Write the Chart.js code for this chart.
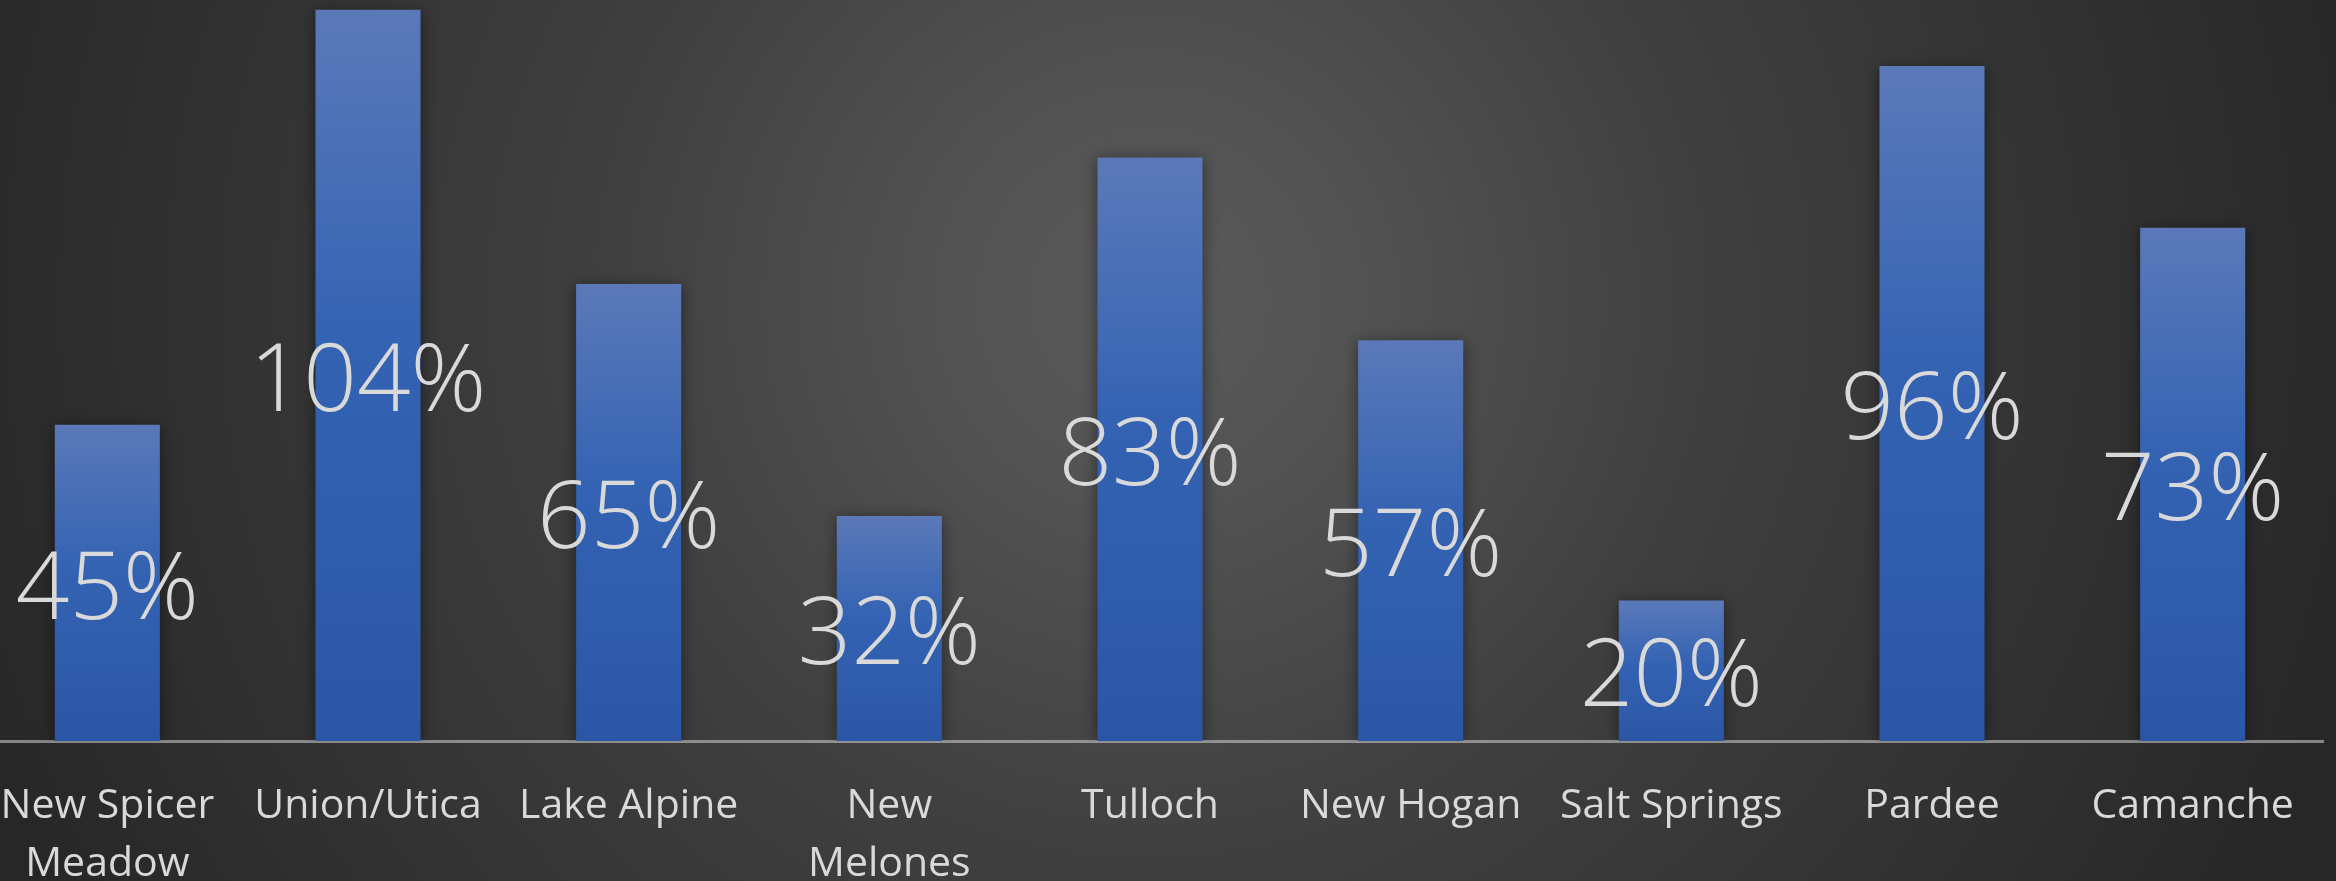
<!DOCTYPE html>
<html>
<head>
<meta charset="utf-8">
<script src="https://cdn.jsdelivr.net/npm/chart.js@4.4.1/dist/chart.umd.min.js"></script>
<style>
  html, body {
    margin: 0;
    padding: 0;
    width: 2336px;
    height: 881px;
    overflow: hidden;
    background: radial-gradient(circle 1250px at 1150px 300px, #5a5a5a 0%, #535353 16%, #3f3f3f 45%, #272727 100%);
  }
  #wrap {
    position: absolute;
    left: -23px;
    top: 0;
    width: 2359px;
    height: 881px;
  }
</style>
</head>
<body>
<div id="wrap"><canvas id="reservoirs"></canvas></div>
<script>
// reservoir storage, percent of average
const reservoirs = [
  ['New Spicer', 'Meadow'],
  'Union/Utica',
  'Lake Alpine',
  ['New', 'Melones'],
  'Tulloch',
  'New Hogan',
  'Salt Springs',
  'Pardee',
  'Camanche'
];
const percentFull = [45, 104, 65, 32, 83, 57, 20, 96, 73];
const yMin = 0;
const yMax = 105.4;

// bar fill: light at the top, darker blue at the base
function barGradient(context) {
  const chart = context.chart;
  if (!chart.chartArea || context.type !== 'data') return '#3463b3';
  const y = chart.scales.y;
  const top = y.getPixelForValue(context.raw);
  const bottom = y.getPixelForValue(0);
  if (!isFinite(top) || top === bottom) return '#3463b3';
  const g = chart.ctx.createLinearGradient(0, top, 0, bottom);
  g.addColorStop(0, '#5b79b9');
  g.addColorStop(0.45, '#3463b3');
  g.addColorStop(1, '#2b56a5');
  return g;
}

// soft shadow behind the bars
const barShadow = {
  id: 'barShadow',
  beforeDatasetsDraw(chart) {
    const ctx = chart.ctx;
    ctx.save();
    ctx.shadowColor = 'rgba(0,0,0,0.45)';
    ctx.shadowBlur = 14;
    ctx.shadowOffsetX = 0;
    ctx.shadowOffsetY = 2;
  },
  afterDatasetsDraw(chart) {
    chart.ctx.restore();
  }
};

// big centred labels on each bar
const centreLabels = {
  id: 'centreLabels',
  afterDraw(chart) {
    const ctx = chart.ctx;
    const meta = chart.getDatasetMeta(0);
    ctx.save();
    ctx.font = '300 94px "Open Sans"';
    ctx.fillStyle = '#d9d9d9';
    ctx.textAlign = 'center';
    ctx.textBaseline = 'middle';
    meta.data.forEach((bar, i) => {
      const mid = (bar.y + bar.base) / 2 + 9;
      ctx.fillText(percentFull[i] + '%', bar.x, mid);
    });
    ctx.restore();
  }
};

const ctx = document.querySelector('#reservoirs');

const statsChart = new Chart(ctx, {
  type: 'bar',
  data: {
    labels: reservoirs,
    datasets: [
      {
        label: 'Percent of average',
        data: percentFull,
        backgroundColor: barGradient,
        borderWidth: 0,
        barPercentage: 0.403,
        categoryPercentage: 1
      }
    ]
  },
  options: {
    responsive: true,
    maintainAspectRatio: false,
    animation: false,
    layout: {
      padding: {top: 0, right: 13, bottom: 0, left: 0}
    },
    plugins: {
      legend: {display: false},
      tooltip: {enabled: false}
    },
    scales: {
      x: {
        z: 1,
        grid: {display: false},
        border: {display: true, color: 'rgba(210,210,210,0.55)', width: 3},
        ticks: {
          color: '#d9d9d9',
          font: {family: '"Open Sans"', size: 41, lineHeight: 1.42},
          padding: 28,
          maxRotation: 0,
          autoSkip: false
        },
        afterFit(scale) {
          scale.height = 140;
          scale.paddingLeft = 0;
          scale.paddingRight = 0;
        }
      },
      y: {
        display: false,
        min: yMin,
        max: yMax
      }
    }
  },
  plugins: [barShadow, centreLabels]
});
</script>
</body>
</html>
